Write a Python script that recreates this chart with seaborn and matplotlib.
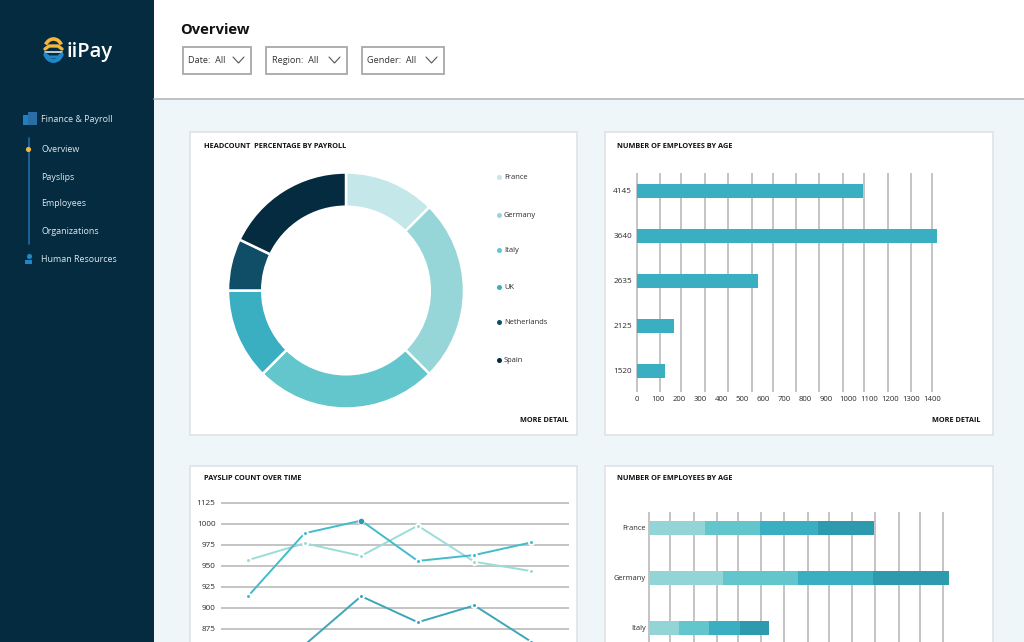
import matplotlib
matplotlib.use("Agg")
import matplotlib.pyplot as plt
import matplotlib.patches as mpatches
import numpy as np
import pandas as pd
import seaborn as sns

W, H = 1024, 642

# donut
countries = ["France", "Germany", "Italy", "UK", "Netherlands", "Spain"]
headcount_pct = [12.5, 25, 25, 12.5, 7.1, 17.9]
donut_colors = ["#c4e7ea", "#96d6d8", "#62c6cc", "#3aafc2", "#0f4e66", "#052b40"]

# employees by age
age_groups = ["4145", "3640", "2635", "2125", "1520"]
age_counts = [1072, 1424, 574, 176, 131]
age_ticks = list(range(0, 1500, 100))
# the mockup's grid does not line up with its tick labels
age_grid = [0, 111, 210, 321, 432, 544, 644, 755, 866, 977, 1078, 1189, 1300, 1400]

# payslips over time
periods = [1, 2, 3, 4, 5, 6]
payslip_a = [957, 977, 962, 998, 955, 944]
payslip_b = [914, 989, 1004, 956, 963, 978]
payslip_c = [830, 856, 914, 883, 903, 860]
payslip_ticks = [1025, 1000, 975, 950, 925, 900, 875]
payslip_labels = ["1125", "1000", "975", "950", "925", "900", "875"]

# stacked employees by country
stack_countries = ["France", "Germany", "Italy"]
stack_1 = [266, 354, 143]
stack_2 = [262, 356, 143]
stack_3 = [278, 357, 148]
stack_4 = [267, 362, 138]
stack_grid = [0, 102, 213, 324, 422, 533, 644, 756, 856, 967, 1078, 1189, 1289, 1400]
stack_colors = ["#93d5d6", "#62c6cc", "#3aafc2", "#2e9aae"]

sns.set_theme(style="white")
plt.rcParams["font.family"] = ["Open Sans", "DejaVu Sans"]

NAVY = "#052b40"
GRID = "#b4b4b4"
TXT = "#2b2b2b"

fig = plt.figure(figsize=(W / 100, H / 100), dpi=100)


def px_axes(left, top, right, bottom):
    ax = fig.add_axes([left / W, 1 - bottom / H, (right - left) / W, (bottom - top) / H])
    ax.patch.set_alpha(0)
    return ax


# page chrome, in pixel coordinates
bg = px_axes(0, 0, W, H)
bg.set_xlim(0, W)
bg.set_ylim(H, 0)
bg.axis("off")
bg.add_patch(mpatches.Rectangle((154, 0), W - 154, H, color="white", lw=0))
bg.add_patch(mpatches.Rectangle((154, 99), W - 154, H - 99, color="#eff6fa", lw=0))
bg.plot([154, W], [99, 99], color="#b5b8ba", lw=1.2)
bg.add_patch(mpatches.Rectangle((0, 0), 154, H, color=NAVY, lw=0))

# logo
bg.add_patch(mpatches.Arc((53.5, 50), 18, 22, theta1=215, theta2=325, color="#f4b73c", lw=2.6))
bg.add_patch(mpatches.Arc((53.5, 50), 18, 22, theta1=25, theta2=155, color="#1f86c8", lw=2.8))
bg.plot([45, 49, 58, 62], [49, 46, 46, 49], color="#f4b73c", lw=2.4)
bg.plot([45, 62], [51.5, 51.5], color="#dce8ee", lw=1.2)
bg.plot([45, 49, 58, 62], [54, 57, 57, 54], color="#1f86c8", lw=2.2)
bg.text(67, 52.5, "iiPay", color="white", fontsize=14.5, fontweight="semibold", va="center", ha="left")

# sidebar menu
bg.add_patch(mpatches.Rectangle((23, 115), 5, 10, color="#1f7fc0", lw=0))
bg.add_patch(mpatches.Rectangle((28, 112), 9, 13, color="#2a6ea8", lw=0))
bg.plot([29, 29], [138, 244], color="#1f6ea8", lw=1.2)
bg.scatter([28], [149], s=14, color="#f4b73c", zorder=3, lw=0)
bg.scatter([28.5], [255.5], s=14, color="#1f86c8", lw=0)
bg.add_patch(mpatches.Rectangle((25, 260), 7, 4, color="#1f86c8", lw=0))
for label, y in [("Finance & Payroll", 119), ("Overview", 149), ("Payslips", 177),
                 ("Employees", 203), ("Organizations", 231), ("Human Resources", 259)]:
    bg.text(41, y, label, color="#dfe7ec", fontsize=6.4, va="center", ha="left")

# header
bg.text(180, 30, "Overview", color="#111111", fontsize=10.6, fontweight="bold", va="center", ha="left")
for x0, x1, label, tx in [(183, 251, "Date:  All", 188), (266, 347, "Region:  All", 272),
                          (362, 444, "Gender:  All", 367)]:
    bg.add_patch(mpatches.Rectangle((x0, 47), x1 - x0, 27, fc="white", ec="#a8a8a8", lw=1.3))
    bg.text(tx, 60.5, label, color="#333333", fontsize=6.6, va="center", ha="left")
    bg.plot([x1 - 18, x1 - 12.5, x1 - 7], [57, 63, 57], color="#555555", lw=0.8)

# cards
for x0, x1, y0, y1 in [(190, 577, 132, 435), (605, 993, 132, 435),
                       (190, 577, 466, 700), (605, 993, 466, 700)]:
    bg.add_patch(mpatches.Rectangle((x0, y0), x1 - x0, y1 - y0, fc="white", ec="#dde1e4", lw=1.1))

for x, y, title in [(204, 147, "HEADCOUNT  PERCENTAGE BY PAYROLL"), (617, 147, "NUMBER OF EMPLOYEES BY AGE"),
                    (204, 479, "PAYSLIP COUNT OVER TIME"), (617, 479, "NUMBER OF EMPLOYEES BY AGE")]:
    bg.text(x, y, title, color="#111111", fontsize=5.3, fontweight="bold", va="center", ha="left")
for x in [568, 980]:
    bg.text(x, 420, "MORE DETAIL", color="#111111", fontsize=5.3, fontweight="bold", va="center", ha="right")

# donut chart
ax = px_axes(228, 172.5, 464, 408.5)
ax.pie(headcount_pct, colors=donut_colors, startangle=90, counterclock=False, radius=1,
       wedgeprops={"width": 0.29, "edgecolor": "white", "linewidth": 1.8})
ax.set_xlim(-1, 1)
ax.set_ylim(-1, 1)

for name, col, y in zip(countries, donut_colors, [177, 214.5, 249.5, 287, 322, 359.5]):
    bg.scatter([499], [y], s=13, color=col, lw=0)
    bg.text(504, y + 0.7, name, color=TXT, fontsize=5.4, va="center", ha="left")

# employees by age
k = (932 - 637) / 1400
ax = px_axes(637, 173, 945, 392)
ax.vlines(age_grid, -0.4, 4.47, color=GRID, lw=1.1, zorder=0, clip_on=False)
sns.barplot(x=age_counts, y=age_groups, color="#3aafc2", saturation=1, width=0.31, ax=ax,
            zorder=2, linewidth=0)
ax.set_xlim(0, (945 - 637) / k)
ax.set_ylim(4.47, -0.4)
ax.set_xticks(age_ticks)
ax.set_xticklabels(age_ticks)
ax.tick_params(axis="x", length=0, labelsize=5.6, labelcolor=TXT, pad=3)
ax.tick_params(axis="y", length=0, labelsize=5.9, labelcolor=TXT, pad=3.5)
sns.despine(ax=ax, left=True, bottom=True)

# payslips over time
ax = px_axes(221, 495, 569, 642)
long_df = pd.DataFrame({
    "period": periods * 3,
    "count": payslip_a + payslip_b + payslip_c,
    "series": ["a"] * 6 + ["b"] * 6 + ["c"] * 6,
})
ax.set_axisbelow(True)
ax.grid(axis="y", color=GRID, lw=1.1)
sns.lineplot(data=long_df, x="period", y="count", hue="series", legend=False, ax=ax, lw=1.4,
             palette=["#9adcd9", "#42bccb", "#3fa5b8"], marker="o", markersize=3.6,
             markeredgecolor="white", markeredgewidth=1.4, errorbar=None)
ax.scatter([periods[2]], [payslip_b[2]], s=16, color="#2e9aae", zorder=4, lw=0)
ax.set_xlim(1 - 27 / 56.6, 1 + 321 / 56.6)
ax.set_ylim(859.5, 1034.5)
ax.set_yticks(payslip_ticks)
ax.set_yticklabels(payslip_labels)
ax.set_xticks([])
ax.set_xlabel("")
ax.set_ylabel("")
ax.tick_params(axis="y", length=0, labelsize=5.9, labelcolor=TXT, pad=4)
sns.despine(ax=ax, left=True, bottom=True)

# stacked bars, drawn back to front from the running totals
ax = px_axes(649, 512, 955, 642)
k2 = (943 - 649) / 1400
ax.vlines(stack_grid, -0.314, 2.286, color=GRID, lw=1.1, zorder=0, clip_on=False)
totals = np.cumsum([stack_1, stack_2, stack_3, stack_4], axis=0)
for i in range(3, -1, -1):
    sns.barplot(x=totals[i], y=stack_countries, color=stack_colors[i], saturation=1,
                width=0.28, ax=ax, zorder=2 + (3 - i), linewidth=0)
ax.set_xlim(0, (955 - 649) / k2)
ax.set_ylim(2.286, -0.314)
ax.set_xticks([])
ax.tick_params(axis="y", length=0, labelsize=5.4, labelcolor=TXT, pad=2.5)
sns.despine(ax=ax, left=True, bottom=True)

fig.savefig("out.png", dpi=100)
